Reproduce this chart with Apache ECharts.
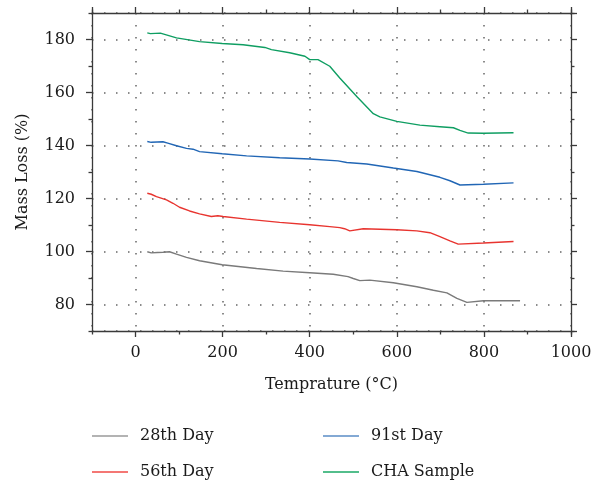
<!DOCTYPE html>
<html><head><meta charset="utf-8">
<script src="https://cdn.jsdelivr.net/npm/echarts@6/dist/echarts.min.js"></script>
<style>html,body{margin:0;padding:0;background:#fff}#c{width:603px;height:483px}</style>
</head><body><div id="c"></div>
<script>
var seriesNames = ['28th Day', '56th Day', '91st Day', 'CHA Sample'];
var day28 = [[27,99.9],[36,99.5],[50,99.6],[63,99.7],[78,99.9],[94,99.0],[117,97.8],[147,96.5],[199,95.0],[278,93.6],[339,92.6],[400,92.0],[454,91.4],[488,90.5],[500,89.8],[515,89.0],[538,89.2],[592,88.2],[646,86.7],[684,85.4],[715,84.4],[738,82.3],[761,80.8],[799,81.4],[883,81.4]];
var day56 = [[27,122],[36,121.6],[48,120.7],[71,119.5],[86,118.2],[101,116.7],[124,115.3],[147,114.2],[174,113.2],[189,113.5],[201,113.2],[255,112.2],[331,111],[400,110.1],[446,109.4],[469,109.0],[480,108.6],[492,107.8],[523,108.6],[600,108.2],[646,107.8],[676,107.1],[699,105.6],[722,104],[741,102.8],[799,103.2],[868,103.8]];
var day91 = [[27,141.5],[36,141.2],[63,141.4],[74,140.9],[94,139.9],[117,138.9],[132,138.6],[147,137.7],[199,136.9],[255,136.1],[331,135.4],[400,134.9],[465,134.2],[485,133.6],[531,133.0],[592,131.5],[646,130.2],[699,128],[722,126.7],[745,125.1],[799,125.4],[868,125.9]];
var cha = [[27,182.5],[34,182.2],[57,182.4],[94,180.6],[147,179.2],[199,178.5],[247,178],[297,177],[312,176.2],[354,175],[389,173.7],[400,172.4],[419,172.4],[446,169.9],[469,165.5],[508,158.5],[546,152],[561,150.8],[600,149.1],[653,147.7],[699,147.1],[730,146.7],[745,145.7],[764,144.7],[799,144.6],[868,144.8]];
var lineColors = ['#7a7a7a', '#e8342f', '#2166b5', '#0f9e62'];
var legendColors = ['#9a9a9a', '#f04a46', '#5a8cc6', '#1aa866'];

var font = 'DejaVu Serif';
var textColor = '#1a1a1a';
var axisLine = {show: true, onZero: false, lineStyle: {color: '#3a3a3a', width: 1.3}};
function plain(v) { return String(v); }
function majorX(pos, labels) {
  return {type: 'value', position: pos, min: -100, max: 1000, splitNumber: 5,
    axisLine: axisLine,
    axisTick: {show: true, inside: false, length: 6, lineStyle: {color: '#3a3a3a', width: 1.3}},
    axisLabel: {show: labels, showMinLabel: false, margin: 14, color: textColor, fontFamily: font, fontSize: 16, formatter: plain},
    splitLine: {show: labels, lineStyle: {color: '#666', width: 1.5, type: [1.5, 10.5]}},
    name: labels ? 'Temprature (°C)' : '', nameLocation: 'middle', nameGap: 46,
    nameTextStyle: {color: textColor, fontFamily: font, fontSize: 16}};
}
function minorX(pos) {
  return {type: 'value', position: pos, min: -100, max: 1000, interval: 200,
    axisLine: {show: false, onZero: false}, axisLabel: {show: false}, splitLine: {show: false},
    axisTick: {show: true, inside: false, length: 3.5, lineStyle: {color: '#3a3a3a', width: 1.3}}};
}
function majorY(pos, labels) {
  return {type: 'value', position: pos, min: 70, max: 190, splitNumber: 6,
    axisLine: axisLine,
    axisTick: {show: true, inside: false, length: 6, lineStyle: {color: '#3a3a3a', width: 1.3}},
    axisLabel: {show: labels, showMinLabel: false, showMaxLabel: false, margin: 17, color: textColor, fontFamily: font, fontSize: 16, formatter: plain},
    splitLine: {show: labels, lineStyle: {color: '#666', width: 1.5, type: [1.5, 10.5]}},
    name: labels ? 'Mass Loss (%)' : '', nameLocation: 'middle', nameGap: 61,
    nameTextStyle: {color: textColor, fontFamily: font, fontSize: 16}};
}
function minorY(pos) {
  return {type: 'value', position: pos, min: 70, max: 190, interval: 20,
    axisLine: {show: false, onZero: false}, axisLabel: {show: false}, splitLine: {show: false},
    axisTick: {show: true, inside: false, length: 3.5, lineStyle: {color: '#3a3a3a', width: 1.3}}};
}
var dataSets = [day28, day56, day91, cha];
var series = dataSets.map(function (d, i) {
  return {name: seriesNames[i], type: 'line', data: d, symbol: 'none', xAxisIndex: 0, yAxisIndex: 0,
    lineStyle: {color: lineColors[i], width: 1.4}, itemStyle: {color: legendColors[i]}};
});
var legendPos = [[92, 428], [92, 464], [323, 428], [323, 464]];
var legends = seriesNames.map(function (n, i) {
  return {data: [n], left: legendPos[i][0], top: legendPos[i][1], padding: 0, icon: 'rect', itemWidth: 36, itemHeight: 1.6,
    itemStyle: {color: legendColors[i]},
    textStyle: {fontFamily: font, fontSize: 16, color: textColor, padding: [0, 0, 0, 7]}};
});
var chart = echarts.init(document.getElementById('c'), null, {renderer: 'canvas'});
chart.setOption({
  animation: false,
  grid: {left: 92, right: 32, top: 13, bottom: 152, containLabel: false},
  xAxis: [majorX('bottom', true), minorX('bottom'), majorX('top', false), minorX('top')],
  yAxis: [majorY('left', true), minorY('left'), majorY('right', false), minorY('right')],
  legend: legends,
  series: series
});
</script></body></html>
